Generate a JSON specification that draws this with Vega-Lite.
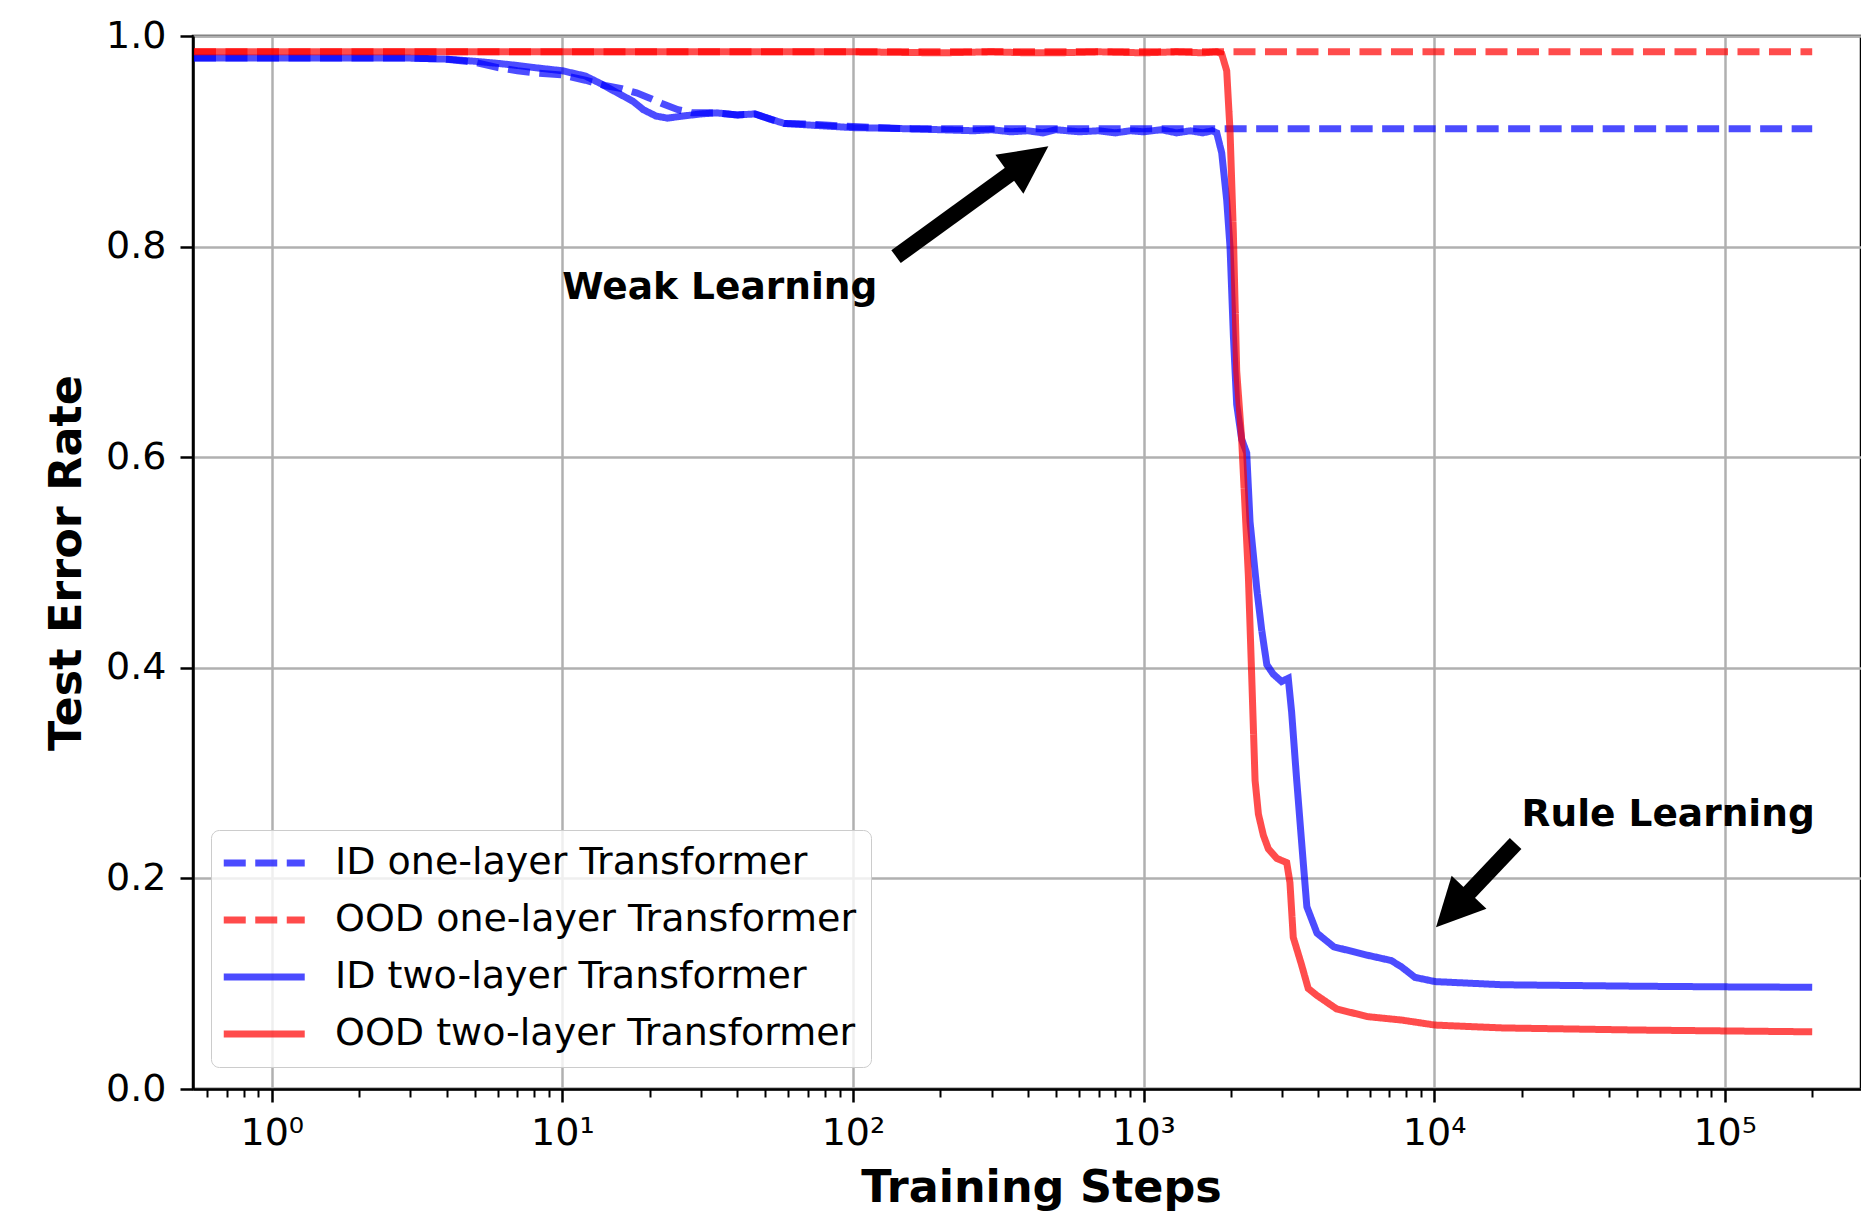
{
  "$schema": "https://vega.github.io/schema/vega-lite/v6.json",
  "width": 1668,
  "height": 1053,
  "autosize": {"type": "none"},
  "padding": {"left": 193, "top": 36, "right": 0, "bottom": 132},
  "config": {
    "font": "DejaVu Sans",
    "view": {"stroke": "black", "strokeWidth": 2.5},
    "axis": {
      "labelFont": "DejaVu Sans",
      "labelFontSize": 38,
      "labelColor": "black",
      "titleFont": "DejaVu Sans",
      "titleFontSize": 44.5,
      "titleFontWeight": "bold",
      "titleColor": "black",
      "tickColor": "black",
      "tickWidth": 2.5,
      "domainColor": "black",
      "domainWidth": 2.5,
      "gridColor": "#b0b0b0",
      "gridWidth": 2.5,
      "gridOpacity": 1
    }
  },
  "datasets": {
    "curves": [
      {"s": "ID one-layer Transformer", "x": 0.54, "y": 0.979},
      {"s": "ID one-layer Transformer", "x": 1, "y": 0.979},
      {"s": "ID one-layer Transformer", "x": 2, "y": 0.979},
      {"s": "ID one-layer Transformer", "x": 3, "y": 0.979},
      {"s": "ID one-layer Transformer", "x": 4, "y": 0.978},
      {"s": "ID one-layer Transformer", "x": 5, "y": 0.975},
      {"s": "ID one-layer Transformer", "x": 6, "y": 0.970},
      {"s": "ID one-layer Transformer", "x": 7, "y": 0.967},
      {"s": "ID one-layer Transformer", "x": 8, "y": 0.965},
      {"s": "ID one-layer Transformer", "x": 10, "y": 0.963},
      {"s": "ID one-layer Transformer", "x": 12, "y": 0.958},
      {"s": "ID one-layer Transformer", "x": 14, "y": 0.953},
      {"s": "ID one-layer Transformer", "x": 16, "y": 0.950},
      {"s": "ID one-layer Transformer", "x": 18, "y": 0.946},
      {"s": "ID one-layer Transformer", "x": 20, "y": 0.941},
      {"s": "ID one-layer Transformer", "x": 22, "y": 0.936},
      {"s": "ID one-layer Transformer", "x": 25, "y": 0.930},
      {"s": "ID one-layer Transformer", "x": 28, "y": 0.927},
      {"s": "ID one-layer Transformer", "x": 34, "y": 0.927},
      {"s": "ID one-layer Transformer", "x": 40, "y": 0.925},
      {"s": "ID one-layer Transformer", "x": 46, "y": 0.926},
      {"s": "ID one-layer Transformer", "x": 52, "y": 0.921},
      {"s": "ID one-layer Transformer", "x": 58, "y": 0.917},
      {"s": "ID one-layer Transformer", "x": 75, "y": 0.916},
      {"s": "ID one-layer Transformer", "x": 100, "y": 0.914},
      {"s": "ID one-layer Transformer", "x": 150, "y": 0.912},
      {"s": "ID one-layer Transformer", "x": 200, "y": 0.912},
      {"s": "ID one-layer Transformer", "x": 1000, "y": 0.912},
      {"s": "ID one-layer Transformer", "x": 10000, "y": 0.912},
      {"s": "ID one-layer Transformer", "x": 200000, "y": 0.912},

      {"s": "OOD one-layer Transformer", "x": 0.54, "y": 0.985},
      {"s": "OOD one-layer Transformer", "x": 1, "y": 0.985},
      {"s": "OOD one-layer Transformer", "x": 10, "y": 0.985},
      {"s": "OOD one-layer Transformer", "x": 100, "y": 0.985},
      {"s": "OOD one-layer Transformer", "x": 1000, "y": 0.985},
      {"s": "OOD one-layer Transformer", "x": 10000, "y": 0.985},
      {"s": "OOD one-layer Transformer", "x": 200000, "y": 0.985},

      {"s": "ID two-layer Transformer", "x": 0.54, "y": 0.979},
      {"s": "ID two-layer Transformer", "x": 1, "y": 0.979},
      {"s": "ID two-layer Transformer", "x": 3, "y": 0.979},
      {"s": "ID two-layer Transformer", "x": 4, "y": 0.978},
      {"s": "ID two-layer Transformer", "x": 5, "y": 0.976},
      {"s": "ID two-layer Transformer", "x": 6, "y": 0.974},
      {"s": "ID two-layer Transformer", "x": 7, "y": 0.972},
      {"s": "ID two-layer Transformer", "x": 8, "y": 0.970},
      {"s": "ID two-layer Transformer", "x": 10, "y": 0.967},
      {"s": "ID two-layer Transformer", "x": 12, "y": 0.962},
      {"s": "ID two-layer Transformer", "x": 13.5, "y": 0.955},
      {"s": "ID two-layer Transformer", "x": 15, "y": 0.948},
      {"s": "ID two-layer Transformer", "x": 17.5, "y": 0.938},
      {"s": "ID two-layer Transformer", "x": 19, "y": 0.930},
      {"s": "ID two-layer Transformer", "x": 21, "y": 0.924},
      {"s": "ID two-layer Transformer", "x": 23, "y": 0.922},
      {"s": "ID two-layer Transformer", "x": 26, "y": 0.924},
      {"s": "ID two-layer Transformer", "x": 30, "y": 0.926},
      {"s": "ID two-layer Transformer", "x": 34, "y": 0.927},
      {"s": "ID two-layer Transformer", "x": 40, "y": 0.925},
      {"s": "ID two-layer Transformer", "x": 46, "y": 0.926},
      {"s": "ID two-layer Transformer", "x": 52, "y": 0.921},
      {"s": "ID two-layer Transformer", "x": 58, "y": 0.917},
      {"s": "ID two-layer Transformer", "x": 75, "y": 0.915},
      {"s": "ID two-layer Transformer", "x": 100, "y": 0.913},
      {"s": "ID two-layer Transformer", "x": 150, "y": 0.912},
      {"s": "ID two-layer Transformer", "x": 200, "y": 0.911},
      {"s": "ID two-layer Transformer", "x": 260, "y": 0.910},
      {"s": "ID two-layer Transformer", "x": 300, "y": 0.911},
      {"s": "ID two-layer Transformer", "x": 350, "y": 0.909},
      {"s": "ID two-layer Transformer", "x": 400, "y": 0.910},
      {"s": "ID two-layer Transformer", "x": 450, "y": 0.908},
      {"s": "ID two-layer Transformer", "x": 500, "y": 0.911},
      {"s": "ID two-layer Transformer", "x": 600, "y": 0.909},
      {"s": "ID two-layer Transformer", "x": 700, "y": 0.910},
      {"s": "ID two-layer Transformer", "x": 800, "y": 0.908},
      {"s": "ID two-layer Transformer", "x": 900, "y": 0.910},
      {"s": "ID two-layer Transformer", "x": 1000, "y": 0.909},
      {"s": "ID two-layer Transformer", "x": 1150, "y": 0.911},
      {"s": "ID two-layer Transformer", "x": 1300, "y": 0.908},
      {"s": "ID two-layer Transformer", "x": 1450, "y": 0.910},
      {"s": "ID two-layer Transformer", "x": 1600, "y": 0.908},
      {"s": "ID two-layer Transformer", "x": 1720, "y": 0.910},
      {"s": "ID two-layer Transformer", "x": 1786, "y": 0.908},
      {"s": "ID two-layer Transformer", "x": 1858, "y": 0.889},
      {"s": "ID two-layer Transformer", "x": 1933, "y": 0.844},
      {"s": "ID two-layer Transformer", "x": 1985, "y": 0.799},
      {"s": "ID two-layer Transformer", "x": 2038, "y": 0.715},
      {"s": "ID two-layer Transformer", "x": 2092, "y": 0.650},
      {"s": "ID two-layer Transformer", "x": 2176, "y": 0.617},
      {"s": "ID two-layer Transformer", "x": 2265, "y": 0.604},
      {"s": "ID two-layer Transformer", "x": 2325, "y": 0.539},
      {"s": "ID two-layer Transformer", "x": 2453, "y": 0.475},
      {"s": "ID two-layer Transformer", "x": 2550, "y": 0.436},
      {"s": "ID two-layer Transformer", "x": 2656, "y": 0.403},
      {"s": "ID two-layer Transformer", "x": 2795, "y": 0.394},
      {"s": "ID two-layer Transformer", "x": 2983, "y": 0.387},
      {"s": "ID two-layer Transformer", "x": 3148, "y": 0.390},
      {"s": "ID two-layer Transformer", "x": 3233, "y": 0.358},
      {"s": "ID two-layer Transformer", "x": 3366, "y": 0.293},
      {"s": "ID two-layer Transformer", "x": 3545, "y": 0.215},
      {"s": "ID two-layer Transformer", "x": 3648, "y": 0.173},
      {"s": "ID two-layer Transformer", "x": 3953, "y": 0.148},
      {"s": "ID two-layer Transformer", "x": 4517, "y": 0.135},
      {"s": "ID two-layer Transformer", "x": 5907, "y": 0.127},
      {"s": "ID two-layer Transformer", "x": 7117, "y": 0.122},
      {"s": "ID two-layer Transformer", "x": 7720, "y": 0.116},
      {"s": "ID two-layer Transformer", "x": 8590, "y": 0.106},
      {"s": "ID two-layer Transformer", "x": 10080, "y": 0.102},
      {"s": "ID two-layer Transformer", "x": 17200, "y": 0.099},
      {"s": "ID two-layer Transformer", "x": 50200, "y": 0.0976},
      {"s": "ID two-layer Transformer", "x": 100000, "y": 0.097},
      {"s": "ID two-layer Transformer", "x": 200000, "y": 0.0966},

      {"s": "OOD two-layer Transformer", "x": 0.54, "y": 0.985},
      {"s": "OOD two-layer Transformer", "x": 1, "y": 0.985},
      {"s": "OOD two-layer Transformer", "x": 10, "y": 0.985},
      {"s": "OOD two-layer Transformer", "x": 100, "y": 0.985},
      {"s": "OOD two-layer Transformer", "x": 200, "y": 0.984},
      {"s": "OOD two-layer Transformer", "x": 300, "y": 0.985},
      {"s": "OOD two-layer Transformer", "x": 400, "y": 0.984},
      {"s": "OOD two-layer Transformer", "x": 500, "y": 0.984},
      {"s": "OOD two-layer Transformer", "x": 700, "y": 0.985},
      {"s": "OOD two-layer Transformer", "x": 1000, "y": 0.984},
      {"s": "OOD two-layer Transformer", "x": 1300, "y": 0.985},
      {"s": "OOD two-layer Transformer", "x": 1600, "y": 0.984},
      {"s": "OOD two-layer Transformer", "x": 1786, "y": 0.985},
      {"s": "OOD two-layer Transformer", "x": 1858, "y": 0.983},
      {"s": "OOD two-layer Transformer", "x": 1933, "y": 0.967},
      {"s": "OOD two-layer Transformer", "x": 1985, "y": 0.909},
      {"s": "OOD two-layer Transformer", "x": 2038, "y": 0.812},
      {"s": "OOD two-layer Transformer", "x": 2092, "y": 0.682},
      {"s": "OOD two-layer Transformer", "x": 2176, "y": 0.617},
      {"s": "OOD two-layer Transformer", "x": 2235, "y": 0.552},
      {"s": "OOD two-layer Transformer", "x": 2295, "y": 0.487},
      {"s": "OOD two-layer Transformer", "x": 2357, "y": 0.391},
      {"s": "OOD two-layer Transformer", "x": 2420, "y": 0.293},
      {"s": "OOD two-layer Transformer", "x": 2485, "y": 0.261},
      {"s": "OOD two-layer Transformer", "x": 2584, "y": 0.241},
      {"s": "OOD two-layer Transformer", "x": 2689, "y": 0.228},
      {"s": "OOD two-layer Transformer", "x": 2873, "y": 0.219},
      {"s": "OOD two-layer Transformer", "x": 3110, "y": 0.215},
      {"s": "OOD two-layer Transformer", "x": 3190, "y": 0.196},
      {"s": "OOD two-layer Transformer", "x": 3275, "y": 0.144},
      {"s": "OOD two-layer Transformer", "x": 3497, "y": 0.118},
      {"s": "OOD two-layer Transformer", "x": 3687, "y": 0.0955},
      {"s": "OOD two-layer Transformer", "x": 3943, "y": 0.089},
      {"s": "OOD two-layer Transformer", "x": 4620, "y": 0.076},
      {"s": "OOD two-layer Transformer", "x": 5907, "y": 0.0687},
      {"s": "OOD two-layer Transformer", "x": 7720, "y": 0.0655},
      {"s": "OOD two-layer Transformer", "x": 10080, "y": 0.0607},
      {"s": "OOD two-layer Transformer", "x": 17200, "y": 0.058},
      {"s": "OOD two-layer Transformer", "x": 50200, "y": 0.056},
      {"s": "OOD two-layer Transformer", "x": 200000, "y": 0.0543}
    ],
    "notes": [
      {"label": "Weak Learning", "x": 10, "y": 0.75},
      {"label": "Rule Learning", "x": 20000, "y": 0.25}
    ],
    "shafts": [
      {"arrow": "weak", "x": 140.7, "y": 0.7905},
      {"arrow": "weak", "x": 363.6, "y": 0.873},
      {"arrow": "rule", "x": 19070, "y": 0.2332},
      {"arrow": "rule", "x": 12640, "y": 0.1812}
    ],
    "weakTip": [{"x": 470.4, "y": 0.8952}],
    "ruleTip": [{"x": 10150, "y": 0.1537}]
  },
  "layer": [
    {
      "data": {"name": "curves"},
      "mark": {"type": "line", "strokeWidth": 7, "opacity": 0.7, "clip": true},
      "encoding": {
        "x": {
          "field": "x", "type": "quantitative",
          "scale": {"type": "log", "domain": [0.5358, 294400], "nice": false},
          "axis": {
            "orient": "bottom",
            "values": [1, 10, 100, 1000, 10000, 100000],
            "labelExpr": "datum.value == 1 ? '10⁰' : datum.value == 10 ? '10¹' : datum.value == 100 ? '10²' : datum.value == 1000 ? '10³' : datum.value == 10000 ? '10⁴' : '10⁵'",
            "grid": true,
            "tickSize": 13,
            "labelPadding": 12,
            "labelFlush": false,
            "labelOverlap": false,
            "title": "Training Steps",
            "titleX": 848,
            "titlePadding": 14
          }
        },
        "y": {
          "field": "y", "type": "quantitative",
          "scale": {"domain": [0, 1], "nice": false, "zero": false},
          "axis": {
            "values": [0, 0.2, 0.4, 0.6, 0.8, 1.0],
            "format": ".1f",
            "grid": true,
            "tickSize": 13,
            "labelPadding": 14,
            "labelFlush": false,
            "title": "Test Error Rate",
            "titlePadding": 16
          }
        },
        "color": {
          "field": "s", "type": "nominal",
          "scale": {
            "domain": ["ID one-layer Transformer", "OOD one-layer Transformer", "ID two-layer Transformer", "OOD two-layer Transformer"],
            "range": ["#0000ff", "#ff0000", "#0000ff", "#ff0000"]
          },
          "legend": {
            "title": null,
            "orient": "none",
            "legendX": 18,
            "legendY": 794,
            "direction": "vertical",
            "fillColor": "rgba(255,255,255,0.8)",
            "strokeColor": "#cccccc",
            "cornerRadius": 8,
            "padding": 14,
            "symbolType": "M-2,0L6,0",
            "symbolSize": 410,
            "symbolStrokeWidth": 7,
            "symbolOpacity": 0.7,
            "labelFontSize": 38,
            "labelFont": "DejaVu Sans",
            "labelColor": "black",
            "labelOffset": 72,
            "labelLimit": 0,
            "rowPadding": 19
          }
        },
        "strokeDash": {
          "field": "s", "type": "nominal",
          "scale": {
            "domain": ["ID one-layer Transformer", "OOD one-layer Transformer", "ID two-layer Transformer", "OOD two-layer Transformer"],
            "range": [[22, 9.5], [22, 9.5], [1, 0], [1, 0]]
          }
        }
      }
    },
    {
      "data": {"name": "notes"},
      "mark": {"type": "text", "font": "DejaVu Sans", "fontWeight": "bold", "fontSize": 37.5, "align": "left", "baseline": "alphabetic", "color": "black"},
      "encoding": {
        "x": {
          "field": "x", "type": "quantitative",
          "axis": {
            "orient": "bottom",
            "values": [0.6, 0.7, 0.8, 0.9, 2, 3, 4, 5, 6, 7, 8, 9, 20, 30, 40, 50, 60, 70, 80, 90, 200, 300, 400, 500, 600, 700, 800, 900, 2000, 3000, 4000, 5000, 6000, 7000, 8000, 9000, 20000, 30000, 40000, 50000, 60000, 70000, 80000, 90000, 200000],
            "labels": false,
            "grid": false,
            "domain": false,
            "tickSize": 8,
            "tickWidth": 2,
            "title": null
          }
        },
        "y": {"field": "y", "type": "quantitative"},
        "text": {"field": "label"}
      }
    },
    {
      "data": {"name": "shafts"},
      "mark": {"type": "line", "color": "black", "strokeWidth": 16, "strokeCap": "butt"},
      "encoding": {
        "x": {"field": "x", "type": "quantitative", "axis": null},
        "y": {"field": "y", "type": "quantitative"},
        "detail": {"field": "arrow"}
      }
    },
    {
      "data": {"name": "weakTip"},
      "mark": {"type": "point", "shape": "M0,0L1,2L-1,2Z", "size": 2304, "filled": true, "color": "black", "opacity": 1, "angle": 54.3},
      "encoding": {
        "x": {"field": "x", "type": "quantitative", "axis": null},
        "y": {"field": "y", "type": "quantitative"}
      }
    },
    {
      "data": {"name": "ruleTip"},
      "mark": {"type": "point", "shape": "M0,0L1,2L-1,2Z", "size": 2304, "filled": true, "color": "black", "opacity": 1, "angle": 223.5},
      "encoding": {
        "x": {"field": "x", "type": "quantitative", "axis": null},
        "y": {"field": "y", "type": "quantitative"}
      }
    }
  ],
  "resolve": {"axis": {"x": "independent"}}
}
